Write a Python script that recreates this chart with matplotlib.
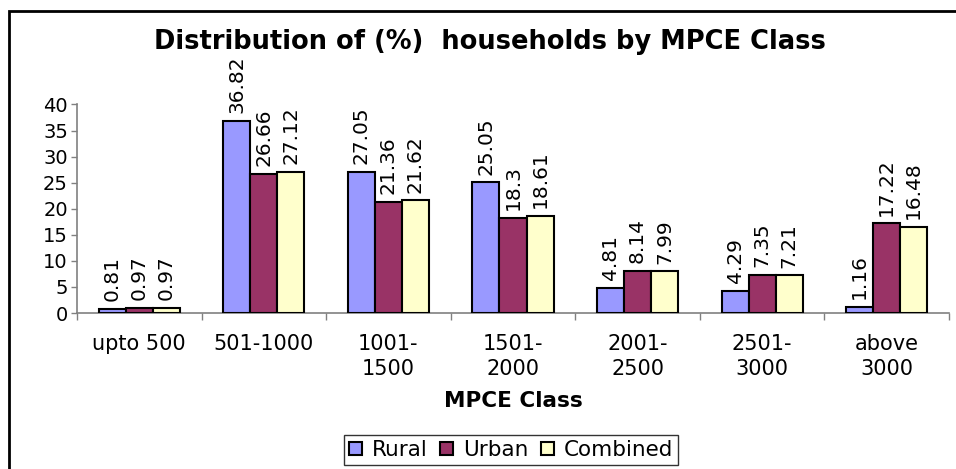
import matplotlib
matplotlib.use('Agg')
import matplotlib.pyplot as plt
import numpy as np
from matplotlib.patches import Rectangle

categories = ['upto 500', '501-1000', '1001-\n1500', '1501-\n2000', '2001-\n2500', '2501-\n3000', 'above\n3000']
rural = [0.81, 36.82, 27.05, 25.05, 4.81, 4.29, 1.16]
urban = [0.97, 26.66, 21.36, 18.3, 8.14, 7.35, 17.22]
combined = [0.97, 27.12, 21.62, 18.61, 7.99, 7.21, 16.48]
series_names = ['Rural', 'Urban', 'Combined']
colors = ['#9999FF', '#993366', '#FFFFCC']

fig = plt.figure(figsize=(9.56, 4.69), dpi=100)
ax = fig.add_axes([0.0805, 0.3326, 0.9122, 0.4446])

x = np.arange(len(categories))
w = 0.217
all_vals = [rural, urban, combined]
for i in range(3):
    bars = ax.bar(x + (i - 1) * w, all_vals[i], width=w, color=colors[i],
                  edgecolor='black', linewidth=1.5, label=series_names[i], zorder=3)
    for b, v in zip(bars, all_vals[i]):
        ax.annotate(f'{v:g}', (b.get_x() + b.get_width() / 2, v),
                    xytext=(0, 5.5), textcoords='offset points',
                    rotation=90, ha='center', va='bottom', fontsize=14.5)

ax.set_xlim(-0.5, len(categories) - 0.5)
ax.set_ylim(0, 40)
ax.set_yticks(np.arange(0, 41, 5))
ax.tick_params(axis='y', labelsize=14, length=4.5, color='#808080', width=1, pad=2)
ax.set_xticks(x)
ax.set_xticklabels(categories, fontsize=15, linespacing=1.35)
ax.tick_params(axis='x', length=0, pad=15)
ax.set_xticks(np.arange(-0.5, len(categories), 1), minor=True)
ax.tick_params(axis='x', which='minor', length=5, color='#808080', width=1)

for s in ['top', 'right']:
    ax.spines[s].set_visible(False)
for s in ['left', 'bottom']:
    ax.spines[s].set_color('#808080')
    ax.spines[s].set_linewidth(1.2)

ax.set_xlabel('MPCE Class', fontsize=15.5, fontweight='bold', labelpad=8)

fig.text(490 / 956, 1 - 42 / 469, 'Distribution of (%)  households by MPCE Class',
         ha='center', va='center', fontsize=18.5, fontweight='bold')

leg = ax.legend(loc='center', bbox_to_anchor=(511 / 956, 1 - 450 / 469),
                bbox_transform=fig.transFigure, ncol=3, fontsize=15.5,
                frameon=True, fancybox=False, handlelength=0.6, handleheight=0.6,
                handletextpad=0.45, columnspacing=0.6, borderpad=0.25)
leg.get_frame().set_edgecolor('black')
leg.get_frame().set_linewidth(1)

fig.patches.append(Rectangle((9 / 956, -0.1), 1.2, 1 - 11 / 469 + 0.1,
                             transform=fig.transFigure, fill=False,
                             edgecolor='black', linewidth=2))

plt.savefig('out.png', dpi=100)
